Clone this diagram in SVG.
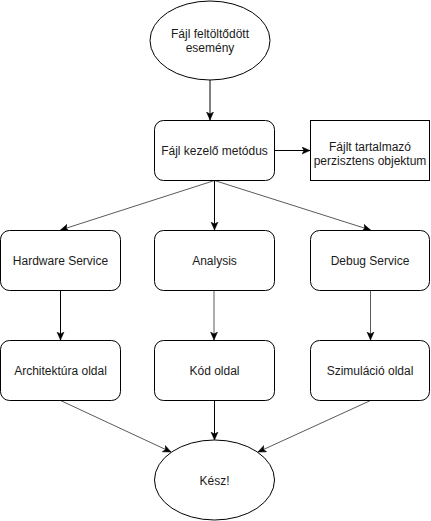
<svg xmlns="http://www.w3.org/2000/svg" width="431" height="521" viewBox="0 0 431 521">
<style>
.n{fill:#fff;stroke:#000;stroke-width:1}
.t{font-family:"Liberation Sans",Arial,sans-serif;font-size:12px;fill:#1a1a1a;text-anchor:middle}
.e{fill:none;stroke:#000;stroke-width:1}
.g{stroke:#5a5a5a}
</style>
<defs>
<marker id="a" markerUnits="userSpaceOnUse" markerWidth="10" markerHeight="10" refX="8" refY="4" orient="auto">
<path d="M0,0.5 L8,4 L0,7.5 L2,4 Z" fill="#000" stroke="#000" stroke-width="0.5"/>
</marker>
</defs>
<rect width="431" height="521" fill="#fff"/>
<g id="edges">
<line class="e" x1="210" y1="80" x2="210" y2="120" marker-end="url(#a)"/>
<line class="e" x1="274.5" y1="150.5" x2="310" y2="150.5" marker-end="url(#a)"/>
<line class="e" x1="214.5" y1="180.5" x2="214.5" y2="230" marker-end="url(#a)"/>
<line class="e g" x1="214.5" y1="180.5" x2="60.5" y2="230" marker-end="url(#a)"/>
<line class="e g" x1="214.5" y1="180.5" x2="370.5" y2="230" marker-end="url(#a)"/>
<line class="e" x1="60.5" y1="290.5" x2="60.5" y2="340" marker-end="url(#a)"/>
<line class="e g" x1="214" y1="290.5" x2="214" y2="340" marker-end="url(#a)"/>
<line class="e g" x1="370.5" y1="290.5" x2="370.5" y2="340" marker-end="url(#a)"/>
<line class="e g" x1="60.5" y1="400.5" x2="171" y2="452" marker-end="url(#a)"/>
<line class="e" x1="214.5" y1="400.5" x2="214.5" y2="440" marker-end="url(#a)"/>
<line class="e g" x1="370.5" y1="400.5" x2="258" y2="452" marker-end="url(#a)"/>
</g>
<g id="start">
<ellipse class="n" cx="210" cy="40.5" rx="60" ry="39.5"/>
<text class="t" x="210" y="38">Fájl feltöltődött</text>
<text class="t" x="210" y="52">esemény</text>
</g>
<g id="handler">
<rect class="n" x="154.5" y="120.5" width="120" height="60" rx="9"/>
<text class="t" x="214.5" y="154.5">Fájl kezelő metódus</text>
</g>
<g id="persist">
<rect class="n" x="310.5" y="120.5" width="119" height="60"/>
<text class="t" x="370" y="150.5">Fájlt tartalmazó</text>
<text class="t" x="370" y="164.5">perzisztens objektum</text>
</g>
<g id="hardware">
<rect class="n" x="0.5" y="230.5" width="120" height="60" rx="9"/>
<text class="t" x="60.5" y="264.5">Hardware Service</text>
</g>
<g id="analysis">
<rect class="n" x="154.5" y="230.5" width="120" height="60" rx="9"/>
<text class="t" x="214.5" y="264.5">Analysis</text>
</g>
<g id="debug">
<rect class="n" x="310.5" y="230.5" width="119" height="60" rx="9"/>
<text class="t" x="370" y="264.5">Debug Service</text>
</g>
<g id="arch">
<rect class="n" x="0.5" y="340.5" width="120" height="60" rx="9"/>
<text class="t" x="60.5" y="374.5">Architektúra oldal</text>
</g>
<g id="code">
<rect class="n" x="154.5" y="340.5" width="120" height="60" rx="9"/>
<text class="t" x="214.5" y="374.5">Kód oldal</text>
</g>
<g id="sim">
<rect class="n" x="310.5" y="340.5" width="119" height="60" rx="9"/>
<text class="t" x="370" y="374.5">Szimuláció oldal</text>
</g>
<g id="done">
<ellipse class="n" cx="214.5" cy="480" rx="60" ry="40"/>
<text class="t" x="214.5" y="484.5">Kész!</text>
</g>
</svg>
